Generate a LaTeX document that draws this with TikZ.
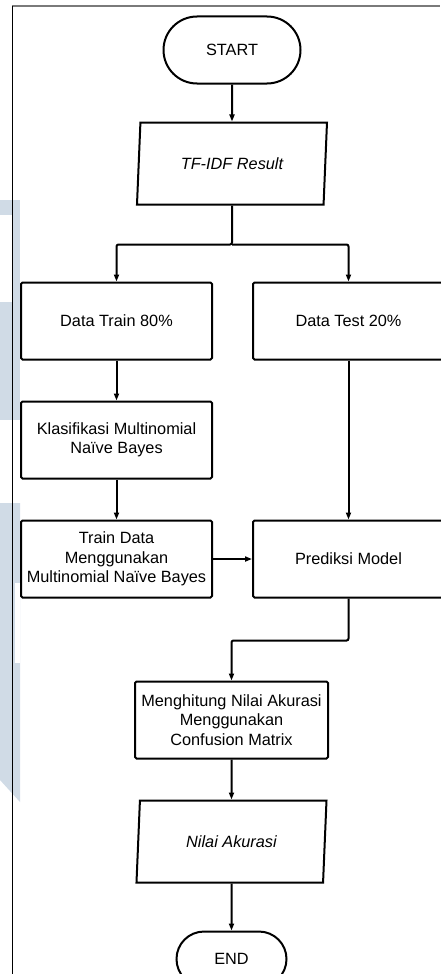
\documentclass[tikz,border=0pt]{standalone}
\usepackage{fontspec}
\setmainfont{Liberation Sans}
\usetikzlibrary{arrows.meta,positioning,shapes.geometric}
\definecolor{watermark}{HTML}{D0DBE6}
\definecolor{frame}{HTML}{7A7A7A}

\begin{document}
\begin{tikzpicture}[>={Triangle[length=7pt,width=5pt]},x=1pt,y=-1pt,
                    line width=2pt,node distance=40pt,
                    every node/.style={font=\fontsize{16.3}{19.3}\selectfont,align=center},
                    terminal/.style={rectangle,draw,rounded corners=#1,inner sep=0pt},
                    process/.style={rectangle,draw,rounded corners=1.5pt,minimum width=191pt,minimum height=77pt,inner sep=0pt},
                    io/.style={trapezium,draw,trapezium left angle=74,trapezium right angle=106,
                               trapezium stretches body,minimum width=190pt,minimum height=82pt,
                               inner sep=0pt,font=\fontsize{16.3}{19.3}\selectfont\itshape},
                    flow/.style={->,line width=2pt,rounded corners=2pt}]

      \useasboundingbox (0,0) rectangle (440,974);
      % background watermark
      \fill[watermark] (12,200) rectangle (20,420);
      \fill[watermark] (0,200) rectangle (12,215);
      \fill[watermark] (0,302) rectangle (12,420);
      \fill[watermark] (0,503) -- (20,503) -- (20,802) -- (0,780) -- cycle;
      \fill[white] (15,583) rectangle (20,663);
      % page frame
      \draw[frame,line width=2pt] (12,6) -- (440,6);
      \draw[line width=0.8pt] (12,6) -- (12,974);

      \node[terminal=33.5pt,minimum width=137pt,minimum height=67pt] (start) at (232,50) {START};
      \node[io] (tfidf) [below=37pt of start] {TF-IDF Result};
      \node[process] (train) [below=76pt of tfidf,xshift=-115.5pt] {Data Train 80\%};
      \node[process] (test) [right=39pt of train] {Data Test 20\%};
      \node[process] (klasifikasi) [below=40pt of train] {Klasifikasi Multinomial\\Naïve Bayes};
      \node[process] (traindata) [below=40pt of klasifikasi] {Train Data\\Menggunakan\\Multinomial Naïve Bayes};
      \node[process] (prediksi) [right=39pt of traindata] {Prediksi Model};
      \node[process,minimum width=193pt] (akurasi) [below=82pt of traindata,xshift=115pt] {Menghitung Nilai Akurasi\\Menggunakan\\Confusion Matrix};
      \node[io] (nilai) [below=40pt of akurasi] {Nilai Akurasi};
      \node[terminal=27.5pt,minimum width=110pt,minimum height=55pt] (end) [below=47pt of nilai] {END};

      \coordinate[below=39pt of tfidf.south] (split);
      \coordinate[below=42pt of prediksi.south] (merge);

      \draw[flow] (start) -- (tfidf);
      \draw[flow] (tfidf) -- (split) -| (train);
      \draw[flow] (split) -| (test);
      \draw[flow] (train) -- (klasifikasi);
      \draw[flow] (klasifikasi) -- (traindata);
      \draw[flow] (test) -- (prediksi);
      \draw[flow] (traindata) -- (prediksi);
      \draw[flow] (prediksi) -- (merge) -| (akurasi);
      \draw[flow] (akurasi) -- (nilai);
      \draw[flow] (nilai) -- (end);
    \end{tikzpicture}
\end{document}
